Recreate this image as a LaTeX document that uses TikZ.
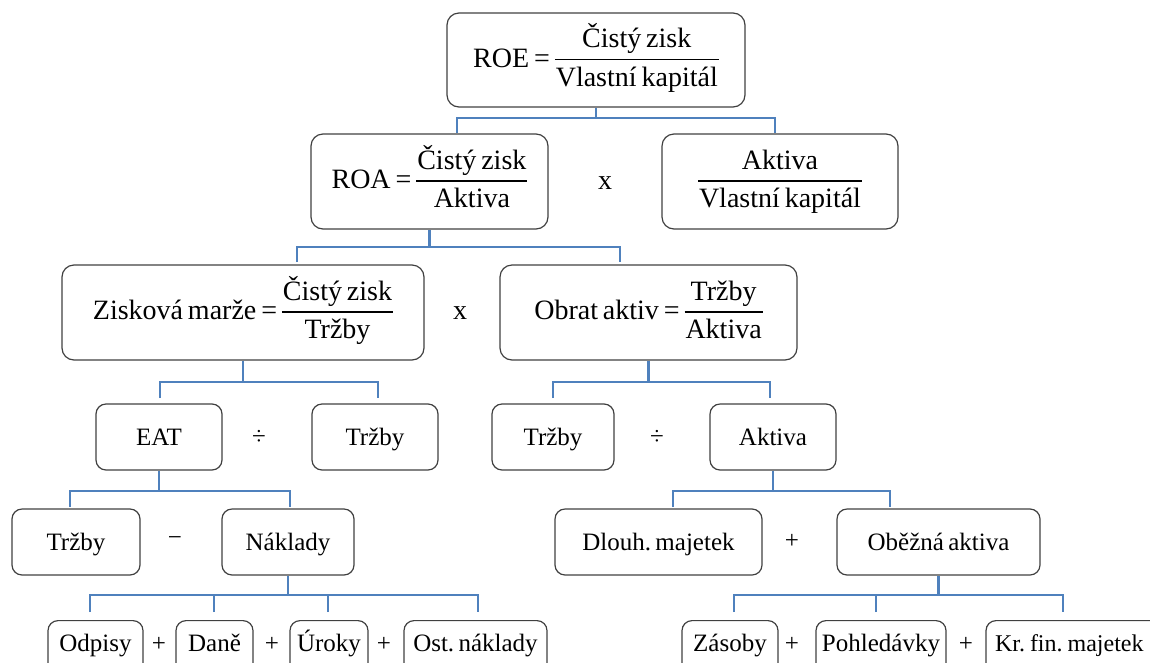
\RequirePackage{fix-cm}
\documentclass[tikz,border=0pt]{standalone}
\usepackage{fontspec}
\setmainfont[WordSpace=0.7]{Liberation Serif}
\usetikzlibrary{calc}
\definecolor{bx}{HTML}{404040}
\definecolor{cn}{HTML}{4F81BD}
\frenchspacing
\newcommand\bigf{\fontsize{28}{34}\selectfont\frenchspacing}
\newcommand\smf{\fontsize{25}{30}\selectfont\frenchspacing}
\newcommand\frc[2]{\setlength{\arrayrulewidth}{1.2pt}\begin{tabular}{@{\hspace{1pt}}c@{\hspace{1pt}}}#1\\[1pt]\hline\rule{0pt}{26pt}#2\end{tabular}}
\tikzset{
  box/.style={draw=bx, line width=1.2pt, rounded corners=12pt, inner sep=0pt, align=center, font=\bigf},
  sbox/.style={box, rounded corners=10pt, font=\smf, text height=20pt, text depth=4pt},
  bbox/.style={sbox, anchor=north, text height=21pt, text depth=40pt, inner ysep=10pt, inner xsep=0pt},
  conn/.style={draw=cn, line width=2.2pt},
  op/.style={font=\smf, inner sep=0pt},
  bop/.style={font=\bigf, inner sep=0pt}
}
\begin{document}
\begin{tikzpicture}[x=1pt,y=-1pt]
\useasboundingbox (0,0) rectangle (1150,662);
\clip (0,0) rectangle (1150,662);
% level 1
\node[box, minimum width=298pt, minimum height=94pt] (roe) at (596,60) {ROE = \frc{Čistý zisk}{Vlastní kapitál}};
% level 2
\node[box, minimum width=237pt, minimum height=95pt] (roa) at (429.5,181.5) {ROA = \frc{Čistý zisk}{Aktiva}};
\node[bop] (x1) at (605,183) {x};
\node[box, minimum width=236pt, minimum height=95pt] (akvk) at (780,181.5) {\frc{Aktiva}{Vlastní kapitál}};
% level 3
\node[box, minimum width=362pt, minimum height=95pt] (zm) at (243,312.5) {Zisková marže = \frc{Čistý zisk}{Tržby}};
\node[bop] (x2) at (460,313) {x};
\node[box, minimum width=297pt, minimum height=95pt] (oa) at (648.5,312.5) {Obrat aktiv = \frc{Tržby}{Aktiva}};
% level 4
\node[sbox, minimum width=126pt, minimum height=66pt] (eat) at (159,437) {EAT};
\node[op] (d1) at (259,437) {÷};
\node[sbox, minimum width=126pt, minimum height=66pt] (trz1) at (375,437) {Tržby};
\node[sbox, minimum width=122pt, minimum height=66pt] (trz2) at (553,437) {Tržby};
\node[op] (d2) at (657,437) {÷};
\node[sbox, minimum width=126pt, minimum height=66pt] (akt) at (773,437) {Aktiva};
% level 5
\node[sbox, minimum width=128pt, minimum height=66pt] (trz3) at (76,542) {Tržby};
\node[op] (m1) at (175,541) {−};
\node[sbox, minimum width=132pt, minimum height=66pt] (nakl) at (288,542) {Náklady};
\node[sbox, minimum width=207pt, minimum height=66pt] (dlm) at (658.5,542) {Dlouh. majetek};
\node[op] (p1) at (792,541) {+};
\node[sbox, minimum width=203pt, minimum height=66pt] (oba) at (938.5,542) {Oběžná aktiva};
% level 6
\node[bbox, minimum width=95pt] (odp) at (95.5,620) {Odpisy};
\node[op] (p2) at (159,644) {+};
\node[bbox, minimum width=77pt] (dane) at (214.5,620) {Daně};
\node[op] (p3) at (272,644) {+};
\node[bbox, minimum width=78pt] (uro) at (329,620) {Úroky};
\node[op] (p4) at (384,644) {+};
\node[bbox, minimum width=143pt] (ost) at (475.5,620) {Ost. náklady};
\node[bbox, minimum width=96pt] (zas) at (730,620) {Zásoby};
\node[op] (p5) at (792,644) {+};
\node[bbox, minimum width=130pt] (poh) at (881,620) {Pohledávky};
\node[op] (p6) at (966,644) {+};
\node[bbox, minimum width=180pt, text width=180pt, align=left] (krf) at (1076,620) {\hspace*{9pt}\fontsize{24}{29}\selectfont Kr.\hspace{5pt}fin.\hspace{5pt}majetek};
% connectors
\draw[conn] (roe.south) -- ++(0,10) coordinate (j1);
\coordinate (l1a) at (457,133); \coordinate (l1b) at (775,133);
\draw[conn] (l1a) |- (j1) -| (l1b);
\draw[conn] (roa.south) -- ++(0,17) coordinate (j2);
\coordinate (l2a) at (297,262); \coordinate (l2b) at (620,262);
\draw[conn] (l2a) |- (j2) -| (l2b);
\draw[conn] (zm.south) -- ++(0,21) coordinate (j3);
\coordinate (l3a) at (160,398); \coordinate (l3b) at (378,398);
\draw[conn] (l3a) |- (j3) -| (l3b);
\draw[conn] (oa.south) -- ++(0,21) coordinate (j4);
\coordinate (l4a) at (553,398); \coordinate (l4b) at (770,398);
\draw[conn] (l4a) |- (j4) -| (l4b);
\draw[conn] (eat.south) -- ++(0,20) coordinate (j5);
\coordinate (l5a) at (70,507); \coordinate (l5b) at (290,507);
\draw[conn] (l5a) |- (j5) -| (l5b);
\draw[conn] (akt.south) -- ++(0,20) coordinate (j6);
\coordinate (l6a) at (673,507); \coordinate (l6b) at (890,507);
\draw[conn] (l6a) |- (j6) -| (l6b);
\draw[conn] (nakl.south) -- ++(0,19) coordinate (j7);
\coordinate (l7a) at (90,612); \coordinate (l7b) at (214,612);
\coordinate (l7c) at (328,612); \coordinate (l7d) at (478,612);
\draw[conn] (l7a) |- (j7) -| (l7d);
\draw[conn] (l7b) -- (l7b |- j7);
\draw[conn] (l7c) -- (l7c |- j7);
\draw[conn] (oba.south) -- ++(0,19) coordinate (j8);
\coordinate (l8a) at (734,612); \coordinate (l8b) at (876,612);
\coordinate (l8c) at (1063,612);
\draw[conn] (l8a) |- (j8) -| (l8c);
\draw[conn] (l8b) -- (l8b |- j8);
\end{tikzpicture}
\end{document}
